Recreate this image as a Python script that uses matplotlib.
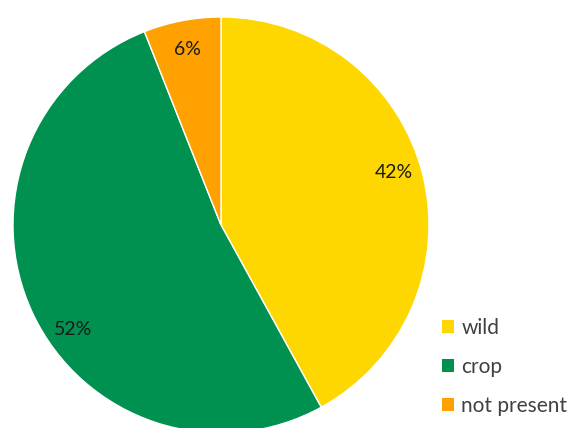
import numpy as np
import matplotlib
matplotlib.use('Agg')
import matplotlib.pyplot as plt
from matplotlib.patches import Patch

plt.rcParams['font.family'] = ['Lato', 'DejaVu Sans']

labels = ['wild', 'crop', 'not present']
shares = [42, 52, 6]
colors = ['#FFD700', '#00904F', '#FFA100']

fig = plt.figure(figsize=(5.70, 4.28), dpi=100)
# pie centre ~ (221, 225) px, radius ~208 px
W, H = 570, 428
cx, cy, r = 221, 225, 208
ax = fig.add_axes([(cx - r) / W, (H - cy - r) / H, 2 * r / W, 2 * r / H])

wedges, texts, autotexts = ax.pie(
    shares, colors=colors, startangle=90, counterclock=False,
    autopct='%1.0f%%', pctdistance=0.86, radius=1,
    wedgeprops=dict(edgecolor='white', linewidth=1),
    textprops=dict(fontsize=14, color='#1a1a1a'))

# excel "best fit" shifts some labels away from the wedge middle
for i, shift in [(0, 2.5), (1, 10)]:
    w = wedges[i]
    ang = np.deg2rad((w.theta1 + w.theta2) / 2 + shift)
    autotexts[i].set_position((0.87 * np.cos(ang), 0.87 * np.sin(ang)))

ax.set_xlim(-1, 1)
ax.set_ylim(-1, 1)
ax.set_aspect('equal')
ax.axis('off')

handles = [Patch(facecolor=c, edgecolor='none') for c in colors]
fig.legend(handles, labels, loc='lower right', bbox_to_anchor=(1.0175, 0.0),
           frameon=False, fontsize=15, labelcolor='#404040',
           handlelength=0.58, handleheight=0.58, handletextpad=0.35,
           labelspacing=0.9, borderaxespad=0.2)

fig.savefig('out.png', dpi=100)
